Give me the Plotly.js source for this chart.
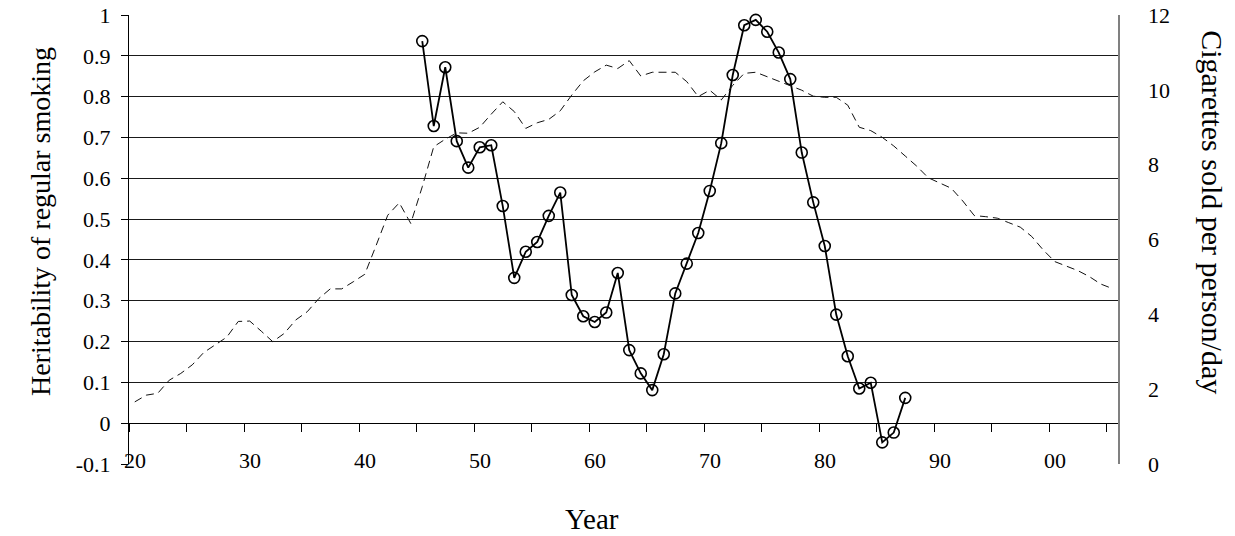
<!DOCTYPE html>
<html>
<head>
<meta charset="utf-8">
<script src="https://cdn.plot.ly/plotly-3.0.1.min.js"></script>
<style>
  html, body { margin: 0; padding: 0; background: #fff; }
  #chart { width: 1235px; height: 536px; }
</style>
</head>
<body>
<div id="chart"></div>
<script>
// ---- Data ----
const cigYears = [1920,1921,1922,1923,1924,1925,1926,1927,1928,1929,
  1930,1931,1932,1933,1934,1935,1936,1937,1938,1939,
  1940,1941,1942,1943,1944,1945,1946,1947,1948,1949,
  1950,1951,1952,1953,1954,1955,1956,1957,1958,1959,
  1960,1961,1962,1963,1964,1965,1966,1967,1968,1969,
  1970,1971,1972,1973,1974,1975,1976,1977,1978,1979,
  1980,1981,1982,1983,1984,1985,1986,1987,1988,1989,
  1990,1991,1992,1993,1994,1995,1996,1997,1998,1999,
  2000,2001,2002,2003,2004,2005];
const cigarettesPerDay = [1.66,1.84,1.89,2.24,2.42,2.65,2.98,3.18,3.39,3.81,
  3.82,3.55,3.27,3.49,3.85,4.07,4.42,4.68,4.68,4.87,
  5.07,5.85,6.65,6.98,6.43,7.41,8.48,8.68,8.85,8.84,
  9.00,9.35,9.68,9.42,8.97,9.12,9.21,9.44,9.86,10.24,
  10.48,10.66,10.57,10.78,10.37,10.47,10.47,10.47,10.22,9.82,
  9.99,9.73,10.12,10.44,10.47,10.35,10.24,10.13,9.99,9.83,
  9.80,9.80,9.59,9.00,8.91,8.73,8.50,8.23,7.96,7.65,
  7.50,7.37,7.03,6.64,6.61,6.57,6.45,6.33,6.08,5.72,
  5.41,5.30,5.17,5.01,4.81,4.69];

const herYears = [1945,1946,1947,1948,1949,1950,1951,1952,1953,1954,
  1955,1956,1957,1958,1959,1960,1961,1962,1963,1964,
  1965,1966,1967,1968,1969,1970,1971,1972,1973,1974,
  1975,1976,1977,1978,1979,1980,1981,1982,1983,1984,
  1985,1986,1987];
const heritability = [0.936,0.728,0.872,0.691,0.626,0.676,0.681,0.532,0.356,0.420,
  0.444,0.508,0.565,0.314,0.262,0.248,0.271,0.368,0.179,0.122,
  0.081,0.169,0.318,0.391,0.466,0.569,0.686,0.853,0.975,0.988,
  0.959,0.908,0.843,0.663,0.541,0.434,0.266,0.164,0.085,0.099,
  -0.047,-0.023,0.062];

// tick marks sit on category boundaries, labels at category centres
const xTickVals = [1919.5,1924.5,1929.5,1934.5,1939.5,1944.5,1949.5,1954.5,1959.5,
  1964.5,1969.5,1974.5,1979.5,1984.5,1989.5,1994.5,1999.5,2004.5];
const xTickText = ['20','','30','','40','','50','','60','','70','','80','','90','','00',''];
const leftTicks = [-0.1,0,0.1,0.2,0.3,0.4,0.5,0.6,0.7,0.8,0.9,1];
const leftTickText = ['-0.1','0','0.1','0.2','0.3','0.4','0.5','0.6','0.7','0.8','0.9','1'];
const gridVals = [0,0.1,0.2,0.3,0.4,0.5,0.6,0.7,0.8,0.9];
const rightTicks = [0,2,4,6,8,10,12];

const FONT = 'Liberation Serif, Times New Roman, serif';

const traces = [
  {
    x: herYears, y: heritability, xaxis: 'x', yaxis: 'y',
    type: 'scatter', mode: 'lines+markers', cliponaxis: false,
    line: { color: '#000', width: 1.8 },
    marker: { symbol: 'circle', size: 11, color: 'rgba(255,255,255,0)',
              line: { color: '#000', width: 1.6 } },
    hoverinfo: 'skip', showlegend: false
  },
  {
    x: cigYears, y: cigarettesPerDay, xaxis: 'x', yaxis: 'y2',
    type: 'scatter', mode: 'lines',
    line: { color: '#111', width: 1, dash: '8px,5px' },
    hoverinfo: 'skip', showlegend: false
  },
  // empty carrier so the gridline axis gets its own subplot
  { x: [], y: [], xaxis: 'x', yaxis: 'y3', type: 'scatter', mode: 'lines',
    hoverinfo: 'skip', showlegend: false }
];

const layout = {
  width: 1235, height: 536,
  margin: { l: 129, r: 117, t: 15, b: 72 },
  paper_bgcolor: '#fff', plot_bgcolor: '#fff',
  font: { family: FONT, size: 22, color: '#000' },
  showlegend: false,
  xaxis: {
    range: [1919.5, 2005.5],
    anchor: 'free', position: 0.1 / 1.1,
    tickmode: 'array', tickvals: xTickVals, ticktext: xTickText,
    ticks: 'outside', ticklen: 8, tickcolor: '#000', tickwidth: 1,
    ticklabelshift: 6, ticklabelstandoff: 9,
    showline: true, linecolor: '#000', linewidth: 1,
    showgrid: false, zeroline: false,
    tickfont: { family: FONT, size: 22, color: '#000' }
  },
  yaxis: {
    range: [-0.1, 1], side: 'left', anchor: 'x',
    tickmode: 'array', tickvals: leftTicks, ticktext: leftTickText,
    ticks: 'outside', ticklen: 7, tickcolor: '#000', tickwidth: 1,
    ticklabelstandoff: 6,
    showline: true, linecolor: '#000', linewidth: 1,
    showgrid: false, zeroline: false,
    tickfont: { family: FONT, size: 22, color: '#000' }
  },
  yaxis2: {
    range: [0, 12], overlaying: 'y', side: 'right', anchor: 'x',
    tickmode: 'array', tickvals: rightTicks,
    ticks: '', ticklabelstandoff: 24,
    showline: true, linecolor: '#808080', linewidth: 1.5,
    showgrid: false, zeroline: false,
    tickfont: { family: FONT, size: 22, color: '#000' }
  },
  yaxis3: {
    range: [-0.1, 1], overlaying: 'y', side: 'left', anchor: 'x',
    tickmode: 'array', tickvals: gridVals,
    showticklabels: false, ticks: '',
    showgrid: true, gridcolor: '#1a1a1a', gridwidth: 1,
    showline: false, zeroline: false
  },
  annotations: [
    { text: 'Year', xref: 'paper', yref: 'paper', x: 0.468, y: -0.122,
      xanchor: 'center', yanchor: 'middle', showarrow: false,
      font: { family: FONT, size: 29, color: '#000' } },
    { text: 'Heritability of regular smoking', xref: 'paper', yref: 'paper',
      x: -0.09, y: 0.541, xanchor: 'center', yanchor: 'middle', textangle: -90,
      showarrow: false, font: { family: FONT, size: 28, color: '#000' } },
    { text: 'Cigarettes sold per person/day', xref: 'paper', yref: 'paper',
      x: 1.096, y: 0.561, xanchor: 'center', yanchor: 'middle', textangle: 90,
      showarrow: false, font: { family: FONT, size: 30, color: '#000' } }
  ]
};

Plotly.newPlot('chart', traces, layout, { staticPlot: true, displayModeBar: false });
</script>
</body>
</html>
